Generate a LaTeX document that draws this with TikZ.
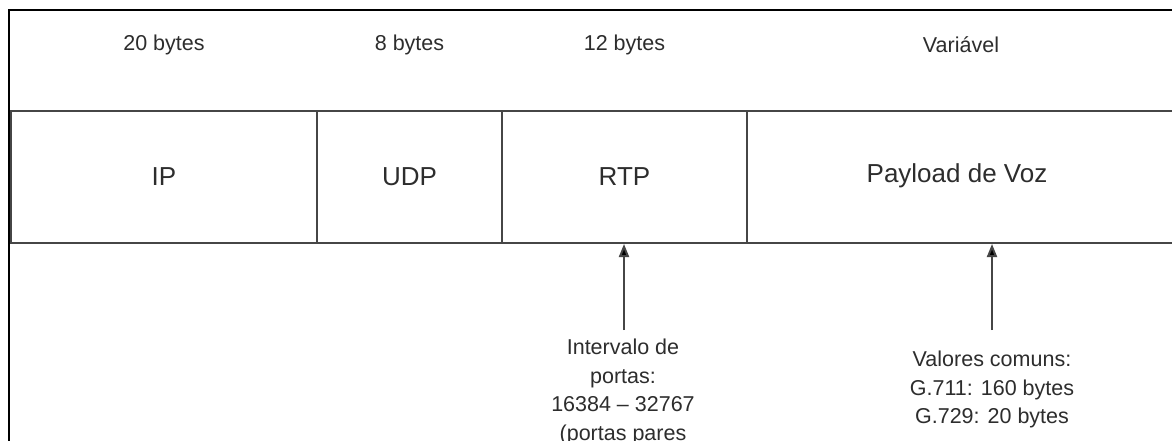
\documentclass[tikz,border=0pt]{standalone}
\usepackage{fontspec}
\setmainfont{Liberation Sans}
\usetikzlibrary{arrows.meta}
\definecolor{txtgray}{RGB}{45,45,45}
\definecolor{linegray}{RGB}{70,70,70}
\tikzset{
  cell/.style={draw=linegray, line width=2pt, rectangle, inner sep=0pt,
               minimum height=132pt, text=txtgray, font=\fontsize{26}{30}\selectfont},
  sizelbl/.style={text=txtgray, inner sep=0pt, font=\fontsize{21.5}{26}\selectfont},
  note/.style={text=txtgray, inner sep=0pt, align=center, anchor=north,
               font=\fontsize{21.5}{28.5}\selectfont},
  arr/.style={draw=linegray, line width=2pt, -{Triangle[width=10pt,length=13pt,fill=black]}}
}
\begin{document}
\begin{tikzpicture}[x=1pt,y=-1pt]
\useasboundingbox (0,0) rectangle (1172,441);
\clip (0,0) rectangle (1172,441);
\fill[white] (0,0) rectangle (1172,441);

% outer frame, running past the right and bottom edges
\draw[black, line width=2.6pt] (9,10) rectangle (1185,460);

% header cells
\node[cell, minimum width=306pt] (ip)  at (164,177)   {IP};
\node[cell, minimum width=185pt] (udp) at (409.5,177) {UDP};
\node[cell, minimum width=245pt] (rtp) at (624.5,177) {RTP};
\node[cell, minimum width=440pt] (pay) at (967,177)   {};
\node[text=txtgray, inner sep=0pt, font=\fontsize{26}{30}\selectfont] (paytxt) at (957,176) {Payload de Voz};

% field sizes
\node[sizelbl] (sip)  at (164,45)   {20 bytes};
\node[sizelbl] (sudp) at (409.5,45) {8 bytes};
\node[sizelbl] (srtp) at (624.5,45) {12 bytes};
\node[sizelbl] (spay) at (961,45)   {Variável};

% annotations
\coordinate (artp) at (624,330);
\coordinate (apay) at (992,330);
\draw[arr] (artp) -- (artp |- rtp.south);
\draw[arr] (apay) -- (apay |- pay.south);

\node[note] (nrtp) at (623,339) {Intervalo de\\portas:\\16384 – 32767\\(portas pares};
\node[note] (npay) at (992,351) {Valores comuns:\\G.711: 160 bytes\\G.729: 20 bytes};
\end{tikzpicture}
\end{document}
